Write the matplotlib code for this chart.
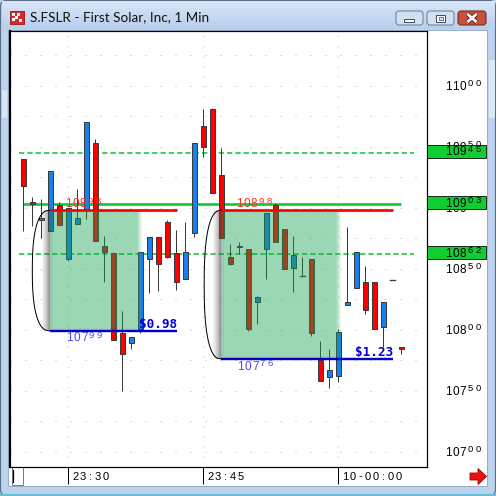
import numpy as np
import matplotlib
matplotlib.use("Agg")
import matplotlib.pyplot as plt
from matplotlib.patches import Rectangle, FancyBboxPatch, Polygon
from matplotlib.transforms import blended_transform_factory, offset_copy

TITLE = "S.FSLR - First Solar, Inc, 1 Min"

# one-minute bars starting at 23:25
opens  = [109.40, 109.05, 108.90, 108.81, 109.02, 108.58, 108.87, 108.99, 109.53, 108.69,
          108.63, 107.97, 107.89, 108.01, 108.58, 108.76, 108.88, 108.63, 108.42, 108.79,
          109.67, 109.81, 109.27, 108.60, 108.68, 108.66, 108.23, 108.66, 109.02, 108.83,
          108.51, 108.44, 108.58, 107.75, 107.61, 107.62, 108.20, 108.34, 108.39, 108.39,
          108.02, 108.41, 107.86]
highs  = [109.40, 109.09, 109.07, 109.30, 109.05, 109.00, 109.15, 109.70, 109.56, 108.77,
          108.63, 108.15, 107.94, 108.64, 108.76, 108.76, 108.90, 108.82, 108.88, 109.53,
          109.81, 109.82, 109.49, 108.70, 108.72, 108.66, 108.28, 108.96, 109.04, 108.83,
          108.77, 108.60, 108.58, 107.91, 107.84, 108.01, 108.84, 108.64, 108.52, 108.39,
          108.23, 108.41, 107.86]
lows   = [108.81, 108.85, 108.75, 108.81, 108.86, 108.56, 108.87, 108.91, 108.73, 108.39,
          107.92, 107.50, 107.84, 107.97, 108.30, 108.32, 108.59, 108.33, 108.42, 108.76,
          109.42, 109.12, 108.75, 108.53, 108.62, 107.99, 108.05, 108.42, 108.72, 108.50,
          108.31, 108.44, 107.95, 107.58, 107.52, 107.57, 108.20, 108.34, 108.13, 108.01,
          107.86, 108.41, 107.80]
closes = [109.18, 109.03, 108.92, 109.30, 108.86, 109.00, 108.92, 109.70, 108.73, 108.64,
          107.92, 107.80, 107.94, 108.64, 108.76, 108.54, 108.60, 108.39, 108.64, 109.53,
          109.50, 109.12, 108.75, 108.54, 108.69, 108.01, 108.27, 108.96, 108.72, 108.50,
          108.61, 108.44, 107.97, 107.58, 107.67, 107.98, 108.23, 108.64, 108.16, 108.01,
          108.23, 108.41, 107.84]

time_tick_bars = [5, 20, 35]
time_tick_labels = ["23:30", "23:45", "10-00:00"]
price_ticks = [107.00, 107.50, 108.00, 108.50, 109.00, 109.50, 110.00]

# horizontal level lines with price tags on the axis
level_prices = [109.45, 109.03, 108.62]
level_solid = [False, True, False]

# price-range measurements
meas_start = [3, 22]
meas_end = [17.1, 41.1]
meas_box_end = [13.3, 35.4]
meas_high = [108.98, 108.98]
meas_low = [107.99, 107.76]
meas_change = ["$0.98", "$1.23"]
meas_arc_width = [2.0, 1.9]

W = H = 496
DPI = 100
fig = plt.figure(figsize=(W / DPI, H / DPI), dpi=DPI)
fig.patch.set_facecolor("#bfd4ec")

bg = fig.add_axes([0, 0, 1, 1], zorder=0)
bg.set_autoscale_on(False)
bg.axis("off")

L, R, T, B = 10, 427, 31, 467
ax = fig.add_axes([L / W, 1 - B / H, (R - L) / W, (B - T) / H], zorder=2)
XLIM = (-1.48, 44.86)
YLIM = (106.875, 110.449)
ax.set_xlim(*XLIM)
ax.set_ylim(*YLIM)
ax.set_autoscale_on(False)
DX = (XLIM[1] - XLIM[0]) / (R - L)   # data units per pixel
DY = (YLIM[1] - YLIM[0]) / (B - T)

PX = 0.72  # one pixel in points

# ---------------- window chrome ----------------
bg.add_patch(FancyBboxPatch((0.5, 0.5), W - 1, H - 1,
                            boxstyle="round,pad=0,rounding_size=6",
                            fc="#bcd2ee", ec="#5d7089", lw=0.9, zorder=0.2))
g = np.linspace(0, 1, 30)[:, None, None]
top_c = np.array([0.85, 0.90, 0.97])
bot_c = np.array([0.72, 0.81, 0.93])
bg.imshow(top_c * (1 - g) + bot_c * g, extent=(1.5, W - 1.5, 29, 1.5),
          aspect="auto", zorder=0.3, interpolation="bilinear")
bg.add_patch(Rectangle((0, 493.5), W, 2.5, fc="#63bfd8", ec="none", zorder=0.3))
bg.add_patch(Rectangle((8, 29.5), 479, 456, fc="white", ec="#8ea3bd", lw=0.6, zorder=0.4))
bg.add_patch(Rectangle((488.5, 60), 6, 58, fc="#dce8f5", ec="none", zorder=0.4))
bg.add_patch(Rectangle((1.5, 90), 5.5, 28, fc="#d8e5f4", ec="none", zorder=0.4))

# application icon
bg.add_patch(Rectangle((10, 11), 14, 13, fc="#d42a2a", ec="#a01010", lw=0.6, zorder=1))
for (ix, iy) in [(12, 13), (17, 13), (12, 18), (19, 19), (15, 16)]:
    bg.add_patch(Rectangle((ix, iy), 2.5, 2.5, fc="white", ec="none", zorder=1.1))
bg.text(30, 17.5, TITLE, fontsize=9.7, family="Lato", va="center", ha="left",
        color="#111111", zorder=1)

# caption buttons
def button(x, w, face, edge):
    bg.add_patch(FancyBboxPatch((x, 11), w, 14, boxstyle="round,pad=0,rounding_size=3",
                                fc=face, ec=edge, lw=0.8, zorder=1))
button(396, 27, "#d3e0f0", "#6f85a3")
button(427, 27, "#d3e0f0", "#6f85a3")
button(458, 28, "#c9503c", "#7a2a20")
bg.add_patch(Rectangle((404, 18.5), 10, 3, fc="white", ec="#3a4a5e", lw=0.7, zorder=1.2))
bg.add_patch(Rectangle((436, 14.5), 9, 7, fc="white", ec="#3a4a5e", lw=0.7, zorder=1.2))
bg.add_patch(Rectangle((438.5, 17), 4, 2.5, fc="#d3e0f0", ec="#3a4a5e", lw=0.5, zorder=1.3))
bg.plot([467.5, 476.5], [14, 22], color="#4a1a12", lw=3.2, solid_capstyle="butt", zorder=1.2)
bg.plot([467.5, 476.5], [22, 14], color="#4a1a12", lw=3.2, solid_capstyle="butt", zorder=1.2)
bg.plot([467.5, 476.5], [14, 22], color="white", lw=2.0, solid_capstyle="butt", zorder=1.3)
bg.plot([467.5, 476.5], [22, 14], color="white", lw=2.0, solid_capstyle="butt", zorder=1.3)

# scroll box at the bottom-left and scroll arrow at the bottom-right
bg.add_patch(Rectangle((11.5, 467), 11.5, 17.5, fc="white", ec="#7a7a7a", lw=0.7, zorder=1))
bg.plot([13, 13], [470, 482], color="black", lw=0.9, zorder=1.1)
bg.add_patch(Polygon([(470, 473), (478, 473), (478, 468.5), (486.5, 476.5),
                      (478, 484.5), (478, 480), (470, 480)],
                     closed=True, fc="#ee1111", ec="#9a0000", lw=0.6, zorder=1))

bg.set_xlim(0, W)
bg.set_ylim(H, 0)

# ---------------- chart ----------------
for s in ax.spines.values():
    s.set_linewidth(1.2 * PX)
    s.set_color("black")
ax.spines["left"].set_linewidth(2.2 * PX)
ax.set_yticks([])
ax.set_xticks(time_tick_bars)
ax.set_xticklabels([])
ax.tick_params(axis="x", direction="out", length=17 * PX, width=1 * PX, color="black")

# dotted grid
for p in np.arange(107.0, 110.3, 0.25):
    ax.axhline(p, color="#bdbdbd", lw=1 * PX, ls=(0, (1, 14)), zorder=0.5)
for b in time_tick_bars:
    ax.axvline(b, color="#bdbdbd", lw=1 * PX, ls=(0, (1, 9)), zorder=0.5)

# level lines
n = len(opens)
for p, solid in zip(level_prices, level_solid):
    if solid:
        ax.plot([0, n - 1], [p, p], color="#11cc33", lw=2.7 * PX, zorder=1,
                solid_capstyle="butt")
    else:
        ax.plot([-0.5, n + 0.4], [p, p], color="#19c43a", lw=1.6 * PX,
                ls=(0, (3.3, 1.9)), zorder=1)

# candles
UP, DOWN, EDGE = "#1780ee", "#ff0000", "#3a3a3a"
BODY_W = 0.58
for i, (o, h, l, c) in enumerate(zip(opens, highs, lows, closes)):
    ax.plot([i, i], [l, h], color=EDGE, lw=1 * PX, zorder=2, solid_capstyle="butt")
    if o == c:
        ax.plot([i - BODY_W / 2, i + BODY_W / 2], [o, o], color=EDGE, lw=1.3 * PX, zorder=2.1)
        continue
    lo, hi = min(o, c), max(o, c)
    ax.add_patch(Rectangle((i - BODY_W / 2, lo), BODY_W, hi - lo,
                           fc=UP if c > o else DOWN, ec=EDGE, lw=1 * PX, zorder=2.1))

# shaded measurement boxes with a soft shadow
def box_image(wpx, hpx):
    img = np.zeros((hpx, wpx, 4))
    img[..., :3] = np.array([23, 163, 81]) / 255
    img[..., 3] = 0.43
    sh = 8
    for j in range(sh):
        f = (j + 1) / sh
        img[:, j, :3] = 0.30
        img[:, j, 3] = 0.05 + 0.55 * f ** 1.5
    for j in range(sh, sh + 3):
        img[:, j, :3] = img[:, j, :3] * 0.8
    fade = 6
    img[:, -fade:, 3] *= np.linspace(0.9, 0.0, fade)
    for k in range(3):
        r = hpx - 1 - k
        img[r, sh:, :3] = img[r, sh:, :3] * 0.7 + 0.3 * 0.3
        img[r, sh:, 3] = np.maximum(img[r, sh:, 3], 0.5 - 0.12 * k) * np.r_[np.ones(wpx - sh - fade), np.linspace(0.9, 0, fade)]
    return img

def price_parts(p):
    s = f"{p:.2f}"
    whole, frac = s.split(".")
    return whole, frac

def spaced(axx, x, y, s, adv, tr, dx=0, dy=0, **kw):
    for k, ch in enumerate(s):
        t = offset_copy(tr, fig=fig, x=dx + k * adv, y=dy, units="dots")
        axx.text(x, y, ch, transform=t, ha="center", va="baseline", clip_on=False, **kw)

def price_text(axx, x, p, tr, dx, dy, color, size=8.5, sup_size=6.8, adv=7.2, sup_adv=7.6,
               zorder=5, family="Liberation Sans", weight="normal"):
    whole, frac = price_parts(p)
    spaced(axx, x, p, whole, adv, tr, dx=dx, dy=dy, color=color, fontsize=size,
           family=family, zorder=zorder, weight=weight)
    spaced(axx, x, p, frac, sup_adv, tr, dx=dx + len(whole) * adv, dy=dy + 3.3,
           color=color, fontsize=sup_size, family=family, zorder=zorder, weight=weight)

for k in range(len(meas_start)):
    x0, x1, xb = meas_start[k], meas_end[k], meas_box_end[k]
    hi, lo = meas_high[k], meas_low[k]
    sh_px = 8
    wpx = int(round((xb - x0) / DX)) + sh_px
    hpx = int(round((hi - lo) / DY))
    ax.imshow(box_image(wpx, hpx), extent=(x0 - sh_px * DX, xb, lo, hi),
              aspect="auto", interpolation="bilinear", zorder=3, origin="upper")
    # bracket arc joining high and low
    t = np.linspace(-1, 1, 200)
    rx = meas_arc_width[k]
    xa = x0 - rx * (1 - np.abs(t) ** 2.5) ** (1 / 2.5)
    ya = (hi + lo) / 2 - t * (hi - lo) / 2
    ax.plot(xa, ya, color="black", lw=1 * PX, zorder=3.5)
    ax.plot([x0, x1], [hi, hi], color="#ff0000", lw=2.7 * PX, zorder=4, solid_capstyle="butt")
    ax.plot([x0, x1], [lo, lo], color="#0000cc", lw=2.4 * PX, zorder=4, solid_capstyle="butt")
    tr = ax.transData
    price_text(ax, x0, hi, tr, dx=18.5, dy=3.0, color="#ff2a2a", zorder=4.5)
    price_text(ax, x0, lo, tr, dx=19.5, dy=-10.5, color="#4848ff", zorder=4.5)
    ax.text(x1, lo, meas_change[k], transform=offset_copy(tr, fig=fig, x=0, y=3, units="dots"),
            ha="right", va="baseline", color="#0000dd", fontsize=9.2,
            family="DejaVu Sans Mono", weight="bold", zorder=4.5)

# price axis labels
tr_axis = blended_transform_factory(ax.transAxes, ax.transData)
for p in price_ticks:
    price_text(ax, 1.0, p, tr_axis, dx=21.6, dy=-4.0, color="black", zorder=6)

# level price tags
TAG_H = 12.5 * DY
for p in level_prices:
    ax.add_patch(Rectangle((1.0, p - TAG_H / 2 + 1.5 * DY), 59 / (R - L), TAG_H,
                           transform=tr_axis, fc="#11cc33", ec="black", lw=0.8 * PX,
                           clip_on=False, zorder=7))
    price_text(ax, 1.0, p, tr_axis, dx=21.6, dy=-2.5, color="black", zorder=8)

# time labels
tr_time = blended_transform_factory(ax.transData, ax.transAxes)
for b, lab in zip(time_tick_bars, time_tick_labels):
    spaced(ax, b, 0, lab, 7.55, tr_time, dx=7.2, dy=-12.5, color="black", fontsize=8,
           family="Liberation Sans", zorder=6)

fig.savefig("out.png", dpi=DPI)
